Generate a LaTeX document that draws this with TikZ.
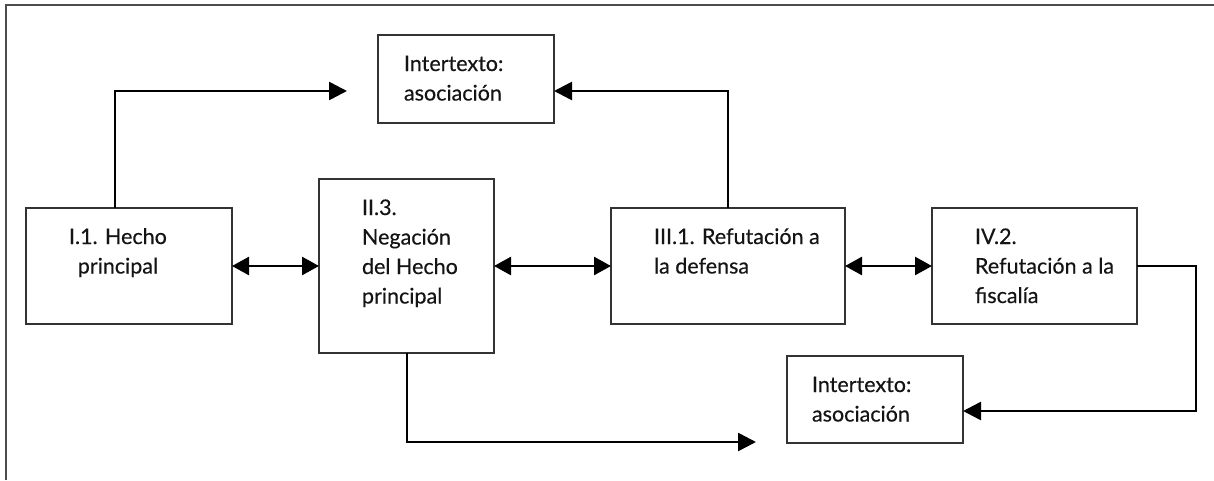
\documentclass[tikz,border=0pt]{standalone}
\usepackage{fontspec}
\setmainfont{Lato}
\newfontfamily\dtext{Lato}[FakeBold=0.35]
\usetikzlibrary{arrows.meta}
\tikzset{
  box/.style={draw=black!80, line width=1.3pt, inner sep=0pt, outer sep=0pt, anchor=north west},
  conn/.style={line width=2.6pt, draw=black},
  tipend/.style={-{Triangle[length=18pt,width=18pt]}},
  dtip/.style={{Triangle[length=17pt,width=18pt]}-{Triangle[length=17pt,width=18pt]}},
  txt/.style={anchor=base west, inner sep=0pt, outer sep=0pt, font=\dtext\fontsize{21.5}{29.5}\selectfont, text=black!92},
  frameline/.style={line width=1.3pt, draw=black!70}
}
\begin{document}
\begin{tikzpicture}[x=1pt,y=-1pt]
\useasboundingbox (0,0) rectangle (1214,480);
\draw[frameline] (6,480) -- (6,5) -- (1214,5);

% boxes
\node[box, minimum width=176pt, minimum height=88pt] (T1) at (378,35) {};
\node[box, minimum width=176pt, minimum height=87pt] (T2) at (787,356) {};
\node[box, minimum width=206pt, minimum height=116pt] (A) at (26,208) {};
\node[box, minimum width=175pt, minimum height=174pt] (B) at (319,179) {};
\node[box, minimum width=234pt, minimum height=116pt] (C) at (611,208) {};
\node[box, minimum width=205pt, minimum height=116pt] (D) at (932,208) {};

% texts
\node[txt] (T1t) at (404,71) {\begin{tabular}[t]{@{}l@{}}Intertexto:\\asociación\end{tabular}};
\node[txt] (T2t) at (812,392) {\begin{tabular}[t]{@{}l@{}}Intertexto:\\asociación\end{tabular}};
\node[txt] (At) at (69,244) {\begin{tabular}[t]{@{}c@{}}I.1. Hecho\\principal\end{tabular}};
\node[txt] (Bt) at (362,215) {\begin{tabular}[t]{@{}l@{}}II.3.\\Negación\\del Hecho\\principal\end{tabular}};
\node[txt] (Ct) at (654,244) {\begin{tabular}[t]{@{}l@{}}III.1. Refutación a\\la defensa\end{tabular}};
\node[txt] (Dt) at (975,244) {\begin{tabular}[t]{@{}l@{}}IV.2.\\Refutación a la\\fiscalía\end{tabular}};

% free ends
\coordinate (e1) at (347,91);
\coordinate (e2) at (756,442);

% connectors
\draw[conn,tipend] ([xshift=89pt]A.north west) |- (e1);
\draw[conn,tipend] ([xshift=117pt]C.north west) |- ([yshift=32pt]T1.south east);
\draw[conn,tipend] ([xshift=88pt]B.south west) |- (e2);
\draw[conn,tipend] (D.east) -- ++(59,0) |- ([yshift=32pt]T2.south east);
\draw[conn,dtip] (A.east) -- (B.west);
\draw[conn,dtip] (B.east) -- (C.west);
\draw[conn,dtip] (C.east) -- (D.west);
\end{tikzpicture}
\end{document}
